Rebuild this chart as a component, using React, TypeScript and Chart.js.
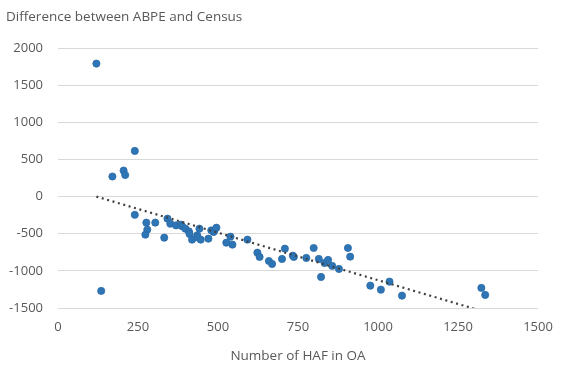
import React, { useEffect, useRef } from "react";
import { Chart, registerables } from "chart.js";

Chart.register(...registerables);

const hafCount = [
  120, 135, 170, 205, 210, 240, 240, 276, 304, 279, 273, 332, 342, 351, 369,
  384, 388, 398, 409, 411, 419, 442, 435, 436, 446, 470, 479, 486, 488, 495,
  526, 539, 545, 592, 623, 630, 659, 669, 700, 709, 734, 737, 776, 799, 815,
  822, 833, 844, 857, 878, 906, 913, 976, 1009, 1036, 1075, 1323, 1335,
];
const difference = [
  1790, -1270, 270, 350, 290, 615, -245, -351, -351, -445, -513, -553, -297,
  -365, -388, -378, -401, -432, -468, -503, -580, -432, -522, -549, -580, -567,
  -455, -477, -463, -419, -620, -540, -647, -580, -755, -813, -867, -907, -840,
  -701, -796, -813, -826, -692, -840, -1082, -894, -853, -934, -974, -692, -809,
  -1199, -1253, -1145, -1334, -1230, -1324,
];
const trendX = [120, 1335];
const trendY = [0, -1554];
const xTicks = [0, 250, 500, 750, 1000, 1250, 1500];
const yTicks = [-1500, -1000, -500, 0, 500, 1000, 1500, 2000];

const FONT = "'Open Sans', 'Noto Sans', sans-serif";

export default function App() {
  const ref = useRef<HTMLCanvasElement>(null);
  useEffect(() => {
    const titlePlugin = {
      id: "ytitle",
      afterDraw(chart: any) {
        const ctx = chart.ctx;
        ctx.save();
        ctx.font = `13.5px ${FONT}`;
        ctx.fillStyle = "#595959";
        ctx.textBaseline = "middle";
        ctx.textAlign = "left";
        ctx.fillText("Difference between ABPE and Census", 6, 17);
        ctx.restore();
      },
    };
    const chart = new Chart(ref.current!, {
      type: "scatter",
      data: {
        datasets: [
          {
            label: "data",
            data: hafCount.map((x, i) => ({ x, y: difference[i] })),
            backgroundColor: "#2E75B6",
            borderColor: "#2A6AA6",
            borderWidth: 0.75,
            pointRadius: 3.6,
            order: 2,
          },
          {
            label: "trend",
            type: "line",
            data: trendX.map((x, i) => ({ x, y: trendY[i] })),
            borderColor: "#404040",
            borderWidth: 2.2,
            borderDash: [2, 3.6],
            pointRadius: 0,
            fill: false,
            order: 1,
          } as any,
        ],
      },
      options: {
        animation: false,
        responsive: false,
        layout: { padding: { left: 0, right: 28, top: 48, bottom: 0 } },
        plugins: {
          legend: { display: false },
          tooltip: { enabled: false },
        },
        scales: {
          x: {
            type: "linear",
            min: 0,
            max: 1500,
            afterBuildTicks: (s: any) => {
              s.ticks = xTicks.map((v) => ({ value: v }));
            },
            afterFit: (s: any) => {
              s.height = 67;
            },
            grid: { display: false, drawTicks: false },
            border: { display: false },
            ticks: {
              padding: 11,
              color: "#595959",
              font: { family: FONT, size: 13 },
              callback: (v: any) => String(v),
            },
            title: {
              display: true,
              text: "Number of HAF in OA",
              color: "#595959",
              font: { family: FONT, size: 13.5 },
              padding: { top: 0, bottom: 11 },
            },
          },
          y: {
            type: "linear",
            min: -1500,
            max: 2000,
            afterBuildTicks: (s: any) => {
              s.ticks = yTicks.map((v) => ({ value: v }));
            },
            afterFit: (s: any) => {
              s.width = 58;
            },
            grid: { color: "#D9D9D9", lineWidth: 1, drawTicks: false },
            border: { display: false },
            ticks: {
              padding: 15,
              color: "#595959",
              font: { family: FONT, size: 13 },
              callback: (v: any) => String(v),
            },
          },
        },
      },
      plugins: [titlePlugin],
    });
    return () => chart.destroy();
  }, []);
  return (
    <div style={{ position: "fixed", left: 0, top: 0, width: 566, height: 375, background: "#fff" }}>
      <canvas ref={ref} width={566} height={375} style={{ width: 566, height: 375 }} />
    </div>
  );
}
